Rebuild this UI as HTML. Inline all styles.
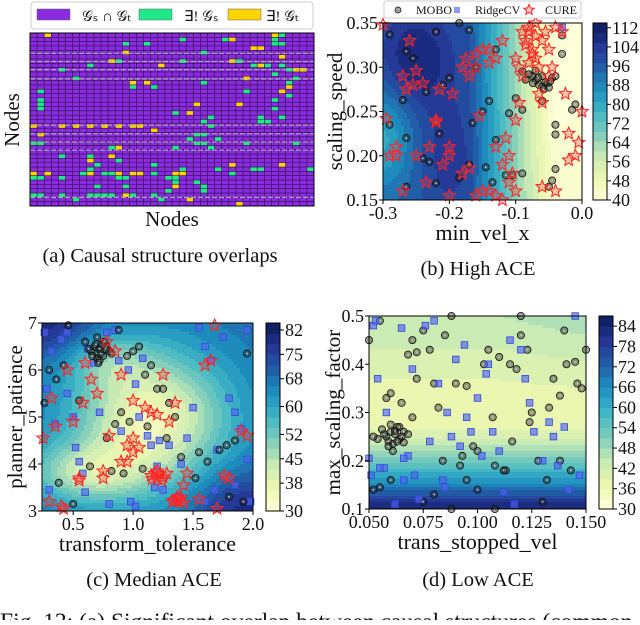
<!DOCTYPE html>
<html><head><meta charset="utf-8"><style>
body{margin:0;width:640px;height:620px;overflow:hidden;background:#fff;font-family:"Liberation Serif",serif}
svg text{font-family:"Liberation Serif",serif;fill:#111}
</style></head><body>
<svg id="fig" width="640" height="620" viewBox="0 0 640 620" xmlns="http://www.w3.org/2000/svg">
<g id="pa"></g>
<g id="pb"></g>
<g id="pc"></g>
<g id="pd"></g>
<text x="160" y="262" text-anchor="middle" font-size="20.5">(a) Causal structure overlaps</text>
<text x="478" y="275" text-anchor="middle" font-size="20.5">(b) High ACE</text>
<text x="154" y="586" text-anchor="middle" font-size="20.5">(c) Median ACE</text>
<text x="478" y="586" text-anchor="middle" font-size="20.5">(d) Low ACE</text>
<text x="0" y="629" font-size="23.5">Fig. 12: (a) Significant overlap between causal structures (common</text>
</svg>
<script>
// ---------- data ----------
const nodeCount = 40;
const greenCells = [[13,2],[16,2],[21,1],[27,1],[34,1],[35,0],[34,2],[35,2],[8,7],[4,8],[12,6],[21,6],[24,4],[29,6],[31,7],[33,7],[35,7],[34,9],[36,8],[37,10],[36,11],[24,11],[6,10],[17,12],[14,12],[1,13],[36,14],[30,13],[34,15],[1,15],[1,16],[1,17],[34,17],[20,18],[25,19],[35,19],[32,19],[24,20],[25,21],[32,20],[33,20],[23,23],[24,23],[22,24],[26,24],[0,25],[1,25],[23,25],[24,25],[30,25],[37,25],[11,26],[20,26],[25,26],[4,28],[8,28],[12,29],[9,30],[8,31],[17,30],[7,32],[10,32],[11,32],[17,32],[21,31],[26,31],[28,32],[31,31],[0,33],[1,33],[4,33],[12,33],[13,33],[19,33],[20,33],[32,31],[39,31],[9,35],[13,35],[20,34],[23,34],[24,35],[19,36],[0,37],[1,37],[4,37],[6,38],[8,37],[9,37],[10,37],[11,37],[14,37],[17,37],[18,38],[24,36]];
const yellowCells = [[2,0],[34,0],[28,1],[31,3],[32,3],[13,4],[11,6],[18,7],[28,6],[32,7],[35,5],[37,8],[38,8],[14,11],[16,11],[30,10],[36,12],[35,13],[23,16],[29,16],[22,18],[0,21],[4,21],[6,21],[8,21],[10,21],[12,21],[14,21],[15,21],[17,22],[1,23],[12,26],[11,28],[8,29],[28,30],[35,30],[0,32],[2,32],[8,32],[12,32],[14,32],[15,32],[20,32],[21,32],[20,35],[13,37],[22,38],[29,39]];
const dashedRows = [4.7,6.6,8.5,10.6,21.3,23.3,25.2,27.1,38];

// (b) high ACE
const bXTicks = [-0.3,-0.2,-0.1,0.0];
const bYTicks = [0.15,0.20,0.25,0.30,0.35];
const bCbTicks = [40,48,56,64,72,80,88,96,104,112];
const bMoboX = [-0.29,-0.265,-0.27,-0.29,-0.265,-0.255,-0.235,-0.22,-0.215,-0.22,-0.23,-0.24,-0.265,-0.2,-0.185,-0.185,-0.17,-0.16,-0.165,-0.17,-0.15,-0.14,-0.145,-0.135,-0.13,-0.11,-0.115,-0.1,-0.09,-0.105,-0.09,-0.06,-0.04,-0.04,-0.03,-0.03,-0.01,-0.015,-0.04,-0.045,-0.05,-0.13,-0.22,-0.21,-0.075,-0.07,-0.065,-0.06,-0.055,-0.05,-0.045,-0.08,-0.085,-0.07,-0.06,-0.052,-0.058,-0.066,-0.074,-0.048,-0.09,-0.04];
const bMoboY = [0.337,0.318,0.263,0.235,0.22,0.31,0.272,0.238,0.225,0.169,0.193,0.197,0.165,0.288,0.175,0.35,0.342,0.3,0.237,0.19,0.25,0.262,0.187,0.17,0.218,0.248,0.178,0.265,0.252,0.178,0.18,0.262,0.235,0.224,0.336,0.315,0.258,0.252,0.185,0.172,0.165,0.32,0.34,0.28,0.29,0.285,0.28,0.278,0.283,0.277,0.288,0.292,0.286,0.296,0.29,0.282,0.275,0.288,0.282,0.284,0.295,0.29];
const bRidgeX = [-0.03];
const bRidgeY = [0.345];
const bCureX = [-0.3,-0.295,-0.28,-0.27,-0.265,-0.26,-0.255,-0.25,-0.24,-0.235,-0.22,-0.215,-0.2,-0.21,-0.195,-0.18,-0.175,-0.17,-0.16,-0.155,-0.15,-0.14,-0.13,-0.12,-0.115,-0.11,-0.1,-0.105,-0.095,-0.09,-0.085,-0.08,-0.075,-0.07,-0.065,-0.06,-0.055,-0.05,-0.045,-0.04,-0.03,-0.025,-0.02,-0.01,0.0,-0.08,-0.075,-0.085,-0.07,-0.065,-0.06,-0.09,-0.1,-0.095,-0.08,-0.07,-0.05,-0.11,-0.12,-0.13,-0.14,-0.16,-0.18,-0.2,-0.23,-0.25,-0.28,-0.29,-0.27,-0.22,-0.2,-0.17,-0.15,-0.13,-0.1,-0.06,-0.04,-0.02,-0.005,-0.12,-0.14,-0.16];
const bCureY = [0.348,0.242,0.21,0.29,0.275,0.33,0.28,0.296,0.282,0.17,0.238,0.275,0.2,0.19,0.27,0.3,0.31,0.186,0.3,0.245,0.16,0.32,0.31,0.19,0.22,0.2,0.24,0.18,0.26,0.29,0.33,0.34,0.32,0.31,0.3,0.33,0.34,0.32,0.3,0.345,0.34,0.27,0.225,0.2,0.25,0.305,0.315,0.325,0.335,0.27,0.26,0.34,0.31,0.3,0.345,0.35,0.29,0.17,0.15,0.155,0.16,0.155,0.18,0.155,0.21,0.2,0.2,0.2,0.16,0.24,0.21,0.29,0.32,0.21,0.16,0.165,0.16,0.195,0.215,0.33,0.305,0.315];

// (c) median ACE
const cXTicks = [0.5,1.0,1.5,2.0];
const cYTicks = [3,4,5,6,7];
const cCbTicks = [30,38,45,52,60,68,75,82];
const cMoboX = [0.65,0.68,0.7,0.72,0.75,0.78,0.7,0.74,0.66,0.8,0.76,0.72,0.69,0.63,0.82,0.71,0.77,0.73,0.26,0.3,0.36,0.42,0.46,0.55,0.6,0.7,0.88,0.95,1.0,1.05,1.1,1.15,1.2,1.25,1.3,1.35,0.9,0.85,0.97,1.12,1.28,1.4,1.55,1.62,1.72,1.78,1.85,1.95,1.92,1.8,0.5,0.64,0.82,0.92,1.08,1.52,0.38,0.78];
const cMoboY = [6.4,6.5,6.35,6.45,6.3,6.5,6.25,6.55,6.3,6.4,6.6,6.2,6.55,6.45,6.35,6.15,6.45,6.35,5.3,6.0,5.8,6.1,6.95,5.35,6.6,6.7,6.85,6.3,6.4,6.5,5.9,6.1,5.6,5.6,5.3,5.0,5.1,4.85,4.9,4.8,4.55,4.15,4.25,4.05,4.3,4.4,4.5,6.35,3.2,3.3,3.15,3.95,3.85,3.8,3.9,3.7,3.6,4.55];
const cRidgeX = [0.26,0.28,0.32,0.35,0.4,0.45,0.5,0.55,0.6,0.62,0.67,0.72,0.78,0.85,0.9,0.96,1.02,1.05,1.08,1.12,1.15,1.2,1.25,1.3,1.35,1.4,1.45,1.5,1.55,1.6,1.65,1.7,1.75,1.8,1.85,1.9,1.95,1.98,0.3,0.52,0.58,0.98,1.02,1.18,1.38,1.6,1.68,1.85,1.95,0.45,0.88,1.22,0.8];
const cRidgeY = [6.8,5.6,6.4,4.85,6.65,5.5,5.0,4.05,3.4,6.45,6.15,5.1,6.8,6.85,4.7,6.0,5.7,5.0,6.25,4.6,4.4,3.95,3.45,4.4,3.25,4.0,4.55,5.2,6.9,6.5,6.2,4.3,6.7,5.4,5.1,4.75,6.85,3.2,3.45,4.35,3.8,3.2,3.1,3.5,3.3,3.2,3.45,3.55,4.1,6.8,6.2,4.5,3.15];
const cCureX = [0.25,0.3,0.35,0.4,0.45,0.5,0.55,0.6,0.65,0.7,0.75,0.8,0.85,0.9,0.95,1.0,1.05,1.1,1.15,1.25,1.35,1.45,1.55,1.65,1.7,1.8,1.9,1.95,0.55,0.75,0.9,1.0,1.2,1.3,1.42,1.6,1.76,1.15,1.18,1.2,1.22,1.25,1.28,1.24,1.2,1.16,1.34,1.36,1.38,1.4,1.42,1.37,1.33,0.32,0.42,0.58,0.78,0.95,1.0,1.68];
const cCureY = [4.55,3.2,4.8,3.1,6.0,4.9,3.7,6.15,5.8,5.5,3.85,4.6,6.4,5.9,4.05,5.35,4.35,5.2,5.1,5.9,5.3,3.8,3.25,6.2,3.05,3.7,4.7,4.6,3.65,3.7,4.05,4.55,5.05,4.9,3.55,6.1,3.75,3.75,3.8,3.7,3.78,3.72,3.8,3.65,3.85,3.68,3.22,3.25,3.2,3.28,3.18,3.3,3.2,5.4,3.05,5.3,6.6,4.4,4.25,6.95];

// (d) low ACE
const dXTicks = [0.05,0.075,0.1,0.125,0.15];
const dYTicks = [0.1,0.2,0.3,0.4,0.5];
const dCbTicks = [30,36,42,48,54,60,66,72,78,84];
const dMoboX = [0.058,0.06,0.062,0.064,0.066,0.056,0.059,0.063,0.061,0.065,0.057,0.06,0.063,0.068,0.054,0.062,0.066,0.052,0.07,0.059,0.064,0.061,0.05,0.055,0.052,0.058,0.06,0.065,0.07,0.072,0.075,0.078,0.08,0.082,0.085,0.088,0.09,0.093,0.095,0.098,0.1,0.103,0.105,0.108,0.11,0.113,0.115,0.118,0.12,0.123,0.125,0.128,0.13,0.133,0.135,0.138,0.14,0.143,0.145,0.148,0.15,0.055,0.06,0.068,0.075,0.08,0.088,0.095,0.1,0.107,0.112,0.12,0.124,0.132,0.138,0.072,0.084,0.092,0.108,0.116,0.141,0.146];
const dMoboY = [0.25,0.26,0.255,0.245,0.26,0.265,0.24,0.27,0.235,0.25,0.255,0.275,0.24,0.255,0.245,0.262,0.238,0.25,0.29,0.23,0.27,0.22,0.45,0.49,0.14,0.33,0.34,0.32,0.45,0.37,0.115,0.43,0.36,0.31,0.46,0.1,0.36,0.21,0.355,0.23,0.14,0.4,0.43,0.1,0.415,0.18,0.4,0.39,0.46,0.43,0.3,0.2,0.115,0.31,0.37,0.335,0.47,0.18,0.405,0.35,0.43,0.145,0.16,0.42,0.47,0.13,0.5,0.16,0.22,0.29,0.18,0.5,0.28,0.16,0.2,0.425,0.2,0.19,0.19,0.24,0.4,0.36];
const dRidgeX = [0.052,0.054,0.05,0.051,0.053,0.057,0.058,0.062,0.065,0.066,0.068,0.07,0.071,0.073,0.076,0.078,0.08,0.082,0.084,0.085,0.086,0.088,0.09,0.092,0.094,0.095,0.097,0.1,0.102,0.104,0.105,0.107,0.11,0.112,0.115,0.117,0.12,0.122,0.124,0.126,0.13,0.133,0.135,0.137,0.14,0.142,0.145,0.147,0.055,0.066];
const dRidgeY = [0.48,0.37,0.205,0.17,0.49,0.185,0.3,0.11,0.475,0.16,0.21,0.39,0.17,0.12,0.48,0.24,0.49,0.36,0.16,0.145,0.3,0.25,0.41,0.23,0.44,0.29,0.26,0.33,0.21,0.38,0.4,0.26,0.22,0.135,0.45,0.11,0.43,0.37,0.32,0.26,0.2,0.28,0.25,0.19,0.27,0.14,0.5,0.17,0.185,0.205];

// field bumps (value model for contour backgrounds)
const bBumps = [[-0.25,0.31,14,0.04,0.04],[-0.2,0.2,8,0.03,0.05],[-0.3,0.22,-16,0.03,0.04],[-0.05,0.3,-4,0.05,0.06]];
const cBumps = [[1.15,4.95,-33,0.45,1.0],[0.6,3.8,-20,0.35,0.45],[0.8,6.2,-10,0.25,0.4],[1.9,3.0,12,0.3,0.6],[0.25,7.0,12,0.3,0.5]];

// ---------- helpers ----------
const NS = "http://www.w3.org/2000/svg";
function mk(parent, tag, attrs){const e=document.createElementNS(NS,tag);for(const k in attrs)e.setAttribute(k,attrs[k]);parent.appendChild(e);return e;}
const cmap=[[255,255,217],[237,248,177],[199,233,180],[127,205,187],[65,182,196],[29,145,192],[34,94,168],[37,52,148],[8,29,88]];
function col(t){t=Math.max(0,Math.min(1,t));const f=t*8,i=Math.min(7,Math.floor(f)),r=f-i;const a=cmap[i],b=cmap[i+1];return `rgb(${Math.round(a[0]+(b[0]-a[0])*r)},${Math.round(a[1]+(b[1]-a[1])*r)},${Math.round(a[2]+(b[2]-a[2])*r)})`;}
function scale(d0,d1,r0,r1){return v=>r0+(v-d0)/(d1-d0)*(r1-r0);}
function starPts(cx,cy,R){let s="";for(let i=0;i<10;i++){const r=i%2?R*0.45:R,a=-Math.PI/2+i*Math.PI/5;s+=(cx+r*Math.cos(a)).toFixed(1)+","+(cy+r*Math.sin(a)).toFixed(1)+" ";}return s;}

function panel(g,o){
  const sx=scale(o.xd[0],o.xd[1],o.x0,o.x1), sy=scale(o.yd[0],o.yd[1],o.y1,o.y0);
  const bg=mk(g,"g",{});
  
  
  const step=3, levels=o.levels;
  for(let px=o.x0;px<o.x1;px+=step)for(let py=o.y0;py<o.y1;py+=step){
    const xv=o.xd[0]+(px+step/2-o.x0)/(o.x1-o.x0)*(o.xd[1]-o.xd[0]);
    const yv=o.yd[1]-(py+step/2-o.y0)/(o.y1-o.y0)*(o.yd[1]-o.yd[0]);
    let v=o.field(xv,yv);
    let t=(v-o.vmin)/(o.vmax-o.vmin); t=Math.floor(t*levels)/levels+0.5/levels;
    mk(bg,"rect",{x:px,y:py,width:Math.min(step,o.x1-px)+0.3,height:Math.min(step,o.y1-py)+0.3,fill:col(t)});
  }
  const pts=mk(g,"g",{});
  o.series.forEach(s=>{
    s.xs.forEach((xv,i)=>{
      const cx=sx(xv),cy=sy(s.ys[i]);let e;
      if(s.type==="circle"){e=mk(pts,"g",{});mk(e,"circle",{cx,cy,r:3.6,fill:"rgba(40,40,40,0.45)",stroke:"#111","stroke-width":0.8});mk(e,"circle",{cx,cy,r:0.9,fill:"#ccc"});}
      else if(s.type==="square"){e=mk(pts,"rect",{x:cx-3.3,y:cy-3.3,width:6.6,height:6.6,fill:"rgba(80,100,240,0.65)",stroke:"#3347e0","stroke-width":0.8});}
      else {e=mk(pts,"polygon",{points:starPts(cx,cy,6.5),fill:"rgba(255,60,60,0.3)",stroke:"#f22","stroke-width":1});}
      
      
    });
  });
  mk(g,"rect",{x:o.x0,y:o.y0,width:o.x1-o.x0,height:o.y1-o.y0,fill:"none",stroke:"#000","stroke-width":1});
  o.xt.forEach(v=>{const x=sx(v);mk(g,"line",{x1:x,x2:x,y1:o.y1,y2:o.y1+4,stroke:"#000"});const t=mk(g,"text",{x,y:o.y1+19,"text-anchor":"middle","font-size":18});t.textContent=o.xfmt(v);});
  o.yt.forEach(v=>{const y=sy(v);mk(g,"line",{x1:o.x0-4,x2:o.x0,y1:y,y2:y,stroke:"#000"});const t=mk(g,"text",{x:o.x0-5,y:y+6,"text-anchor":"end","font-size":18});t.textContent=o.yfmt(v);});
  let t=mk(g,"text",{x:(o.x0+o.x1)/2,y:o.y1+40,"text-anchor":"middle","font-size":22});t.textContent=o.xl;
  
  const yx=o.ylx,yy=(o.y0+o.y1)/2;
  t=mk(g,"text",{x:yx,y:yy,"text-anchor":"middle","font-size":21,transform:`rotate(-90 ${yx} ${yy})`});t.textContent=o.yl;
  
  const cb=mk(g,"g",{});
  const cs=scale(o.vmin,o.vmax,o.y1,o.y0);
  for(let i=0;i<levels;i++){const v0=o.vmin+(o.vmax-o.vmin)*i/levels,v1=o.vmin+(o.vmax-o.vmin)*(i+1)/levels;mk(cb,"rect",{x:o.cbx,y:cs(v1),width:14,height:cs(v0)-cs(v1)+0.5,fill:col((i+0.5)/levels)});}
  mk(cb,"rect",{x:o.cbx,y:o.y0,width:14,height:o.y1-o.y0,fill:"none",stroke:"#000"});
  o.cbt.forEach(v=>{const y=cs(v);mk(cb,"line",{x1:o.cbx+14,x2:o.cbx+18,y1:y,y2:y,stroke:"#000"});const tt=mk(cb,"text",{x:o.cbx+19,y:y+6,"font-size":18});tt.textContent=v;});
}
function gauss(b,x,y){return b[2]*Math.exp(-((x-b[0])**2)/(2*b[3]**2)-((y-b[1])**2)/(2*b[4]**2));}

// ---------- panel a ----------
(function(){
  const g=document.getElementById('pa');
  const x0=30,x1=314,y0=33,y1=206,cw=(x1-x0)/nodeCount,ch=(y1-y0)/nodeCount;
  mk(g,"rect",{x:x0,y:y0,width:x1-x0,height:y1-y0,fill:"#8a2be2"});
  const put=(arr,c,nm)=>arr.forEach(([cx,cy])=>{const r=mk(g,"rect",{x:x0+cx*cw,y:y0+cy*ch,width:cw,height:ch,fill:c});});
  put(greenCells,"#1ee88a","source-only-cell");put(yellowCells,"#ffd400","target-only-cell");
  for(let i=0;i<=nodeCount;i++){mk(g,"line",{x1:x0+i*cw,x2:x0+i*cw,y1:y0,y2:y1,stroke:"#2a1040","stroke-width":0.6});mk(g,"line",{x1:x0,x2:x1,y1:y0+i*ch,y2:y0+i*ch,stroke:"#2a1040","stroke-width":0.6});}
  dashedRows.forEach(r=>mk(g,"line",{x1:x0,x2:x1,y1:y0+r*ch,y2:y0+r*ch,stroke:"#aaa","stroke-width":1.2,"stroke-dasharray":"5,2"}));
  mk(g,"rect",{x:x0,y:y0,width:x1-x0,height:y1-y0,fill:"none",stroke:"#000","stroke-width":1});
  let t=mk(g,"text",{x:172,y:226,"text-anchor":"middle","font-size":21});t.textContent="Nodes";
  t=mk(g,"text",{x:19,y:120,"text-anchor":"middle","font-size":21,transform:"rotate(-90 19 120)"});t.textContent="Nodes";
  const lg=mk(g,"g",{});
  mk(lg,"rect",{x:31,y:2,width:282,height:27,rx:3,fill:"#fff",stroke:"#ccc"});
  [[37,"#8a2be2","𝒢ₛ ∩ 𝒢ₜ",82],[139,"#1ee88a","∃! 𝒢ₛ",184],[228,"#ffd400","∃! 𝒢ₜ",266]].forEach(([x,c,l,tx])=>{mk(lg,"rect",{x,y:9,width:33,height:11,fill:c,stroke:"#666","stroke-width":0.5});const e=mk(lg,"text",{x:tx,y:21,"font-size":15});e.textContent=l;});
})();

// ---------- panel b ----------
panel(document.getElementById('pb'),{x0:383,x1:582,y0:23,y1:200,xd:[-0.3,0],yd:[0.15,0.35],vmin:40,vmax:114,levels:18,
  field:(x,y)=>{let v=42+Math.min(1,Math.max(0,(-x-0.04)/0.13))*54;bBumps.forEach(b=>v+=gauss(b,x,y));return v;},
  series:[{type:"circle",name:"mobo",xs:bMoboX,ys:bMoboY},{type:"square",name:"ridgecv",xs:bRidgeX,ys:bRidgeY},{type:"star",name:"cure",xs:bCureX,ys:bCureY}],
  xt:bXTicks,yt:bYTicks,xfmt:v=>v.toFixed(1),yfmt:v=>v.toFixed(2),xl:"min_vel_x",yl:"scaling_speed",ylx:342,cbx:593,cbt:bCbTicks});
(function(){const g=document.getElementById('pb');const lg=mk(g,"g",{});
 mk(lg,"rect",{x:384,y:1,width:197,height:17,rx:2,fill:"#fff",stroke:"#ccc"});
 mk(lg,"circle",{cx:398,cy:10,r:3,fill:"rgba(40,40,40,0.45)",stroke:"#111","stroke-width":0.7});
 let t=mk(lg,"text",{x:416,y:14,"font-size":12});t.textContent="MOBO";
 mk(lg,"rect",{x:454,y:7,width:6,height:6,fill:"rgba(80,100,240,0.65)"});
 t=mk(lg,"text",{x:475,y:14,"font-size":12});t.textContent="RidgeCV";
 mk(lg,"polygon",{points:starPts(529,10,5.5),fill:"rgba(255,60,60,0.3)",stroke:"#f22"});
 t=mk(lg,"text",{x:545,y:14,"font-size":12});t.textContent="CURE";})();

// ---------- panel c ----------
panel(document.getElementById('pc'),{x0:42,x1:253,y0:323,y1:511,xd:[0.24,2.0],yd:[3,7],vmin:30,vmax:84,levels:18,
  field:(x,y)=>{let v=68;cBumps.forEach(b=>v+=gauss(b,x,y));return v;},
  series:[{type:"square",name:"ridgecv",xs:cRidgeX,ys:cRidgeY},{type:"circle",name:"mobo",xs:cMoboX,ys:cMoboY},{type:"star",name:"cure",xs:cCureX,ys:cCureY}],
  xt:cXTicks,yt:cYTicks,xfmt:v=>v.toFixed(1),yfmt:v=>v,xl:"transform_tolerance",yl:"planner_patience",ylx:22,cbx:266,cbt:cCbTicks});

// ---------- panel d ----------
panel(document.getElementById('pd'),{x0:369,x1:586,y0:316,y1:509,xd:[0.05,0.15],yd:[0.1,0.5],vmin:30,vmax:87,levels:19,
  field:(x,y)=>{let v=36+Math.pow(Math.max(0,0.3-y)/0.2,1.6)*50+Math.max(0,y-0.3)*45+Math.max(0,x-0.11)*250*Math.max(0,y-0.28);return v;},
  series:[{type:"circle",name:"mobo",xs:dMoboX,ys:dMoboY},{type:"square",name:"ridgecv",xs:dRidgeX,ys:dRidgeY}],
  xt:dXTicks,yt:dYTicks,xfmt:v=>v.toFixed(3),yfmt:v=>v.toFixed(1),xl:"trans_stopped_vel",yl:"max_scaling_factor",ylx:340,cbx:599,cbt:dCbTicks});
</script>
</body></html>
